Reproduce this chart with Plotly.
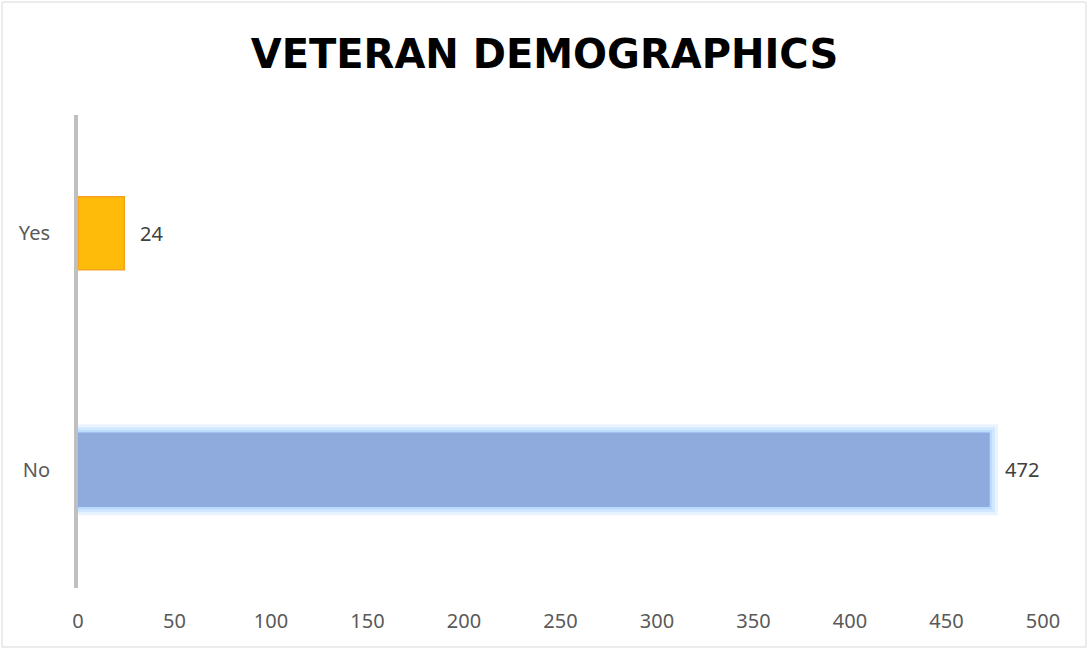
import plotly.graph_objects as go

categories = ["No", "Yes"]
values = [472, 24]
bar_colors = ["#8FAADC", "#FFBB0A"]
edge_colors = ["#8FAADC", "#F5A21E"]
x_ticks = [0, 50, 100, 150, 200, 250, 300, 350, 400, 450, 500]

W, H = 1089, 649
ml, mr, mt, mb = 78, 46, 115, 61
pw = W - ml - mr
ph = H - mt - mb
px_per_unit = pw / 500.0
cat_px = ph / len(categories)
bar_w = 73 / cat_px

fig = go.Figure()

# soft glow behind the "No" bar
glow_layers = [(9, 0.25), (6, 0.4), (3, 0.6)]
for g, op in glow_layers:
    fig.add_trace(go.Bar(
        y=[categories[0]], x=[values[0] + 2 * g / px_per_unit],
        base=[-g / px_per_unit],
        orientation="h", width=bar_w + 2 * g / cat_px,
        marker=dict(color=f"rgba(170,212,255,{op})", line=dict(width=0)),
        hoverinfo="skip", showlegend=False,
    ))

fig.add_trace(go.Bar(
    y=categories, x=values, orientation="h", width=bar_w,
    marker=dict(color=bar_colors, line=dict(color=edge_colors, width=1.5)),
    showlegend=False,
))

for c, v in zip(categories, values):
    fig.add_annotation(x=v, y=c, text=str(v), showarrow=False,
                       xanchor="left", xshift=14,
                       font=dict(family="Noto Sans", size=20, color="#404040"))

# outer chart border
fig.add_shape(type="rect", xref="paper", yref="paper",
              x0=(2 - ml) / pw, x1=(1086 - ml) / pw,
              y0=(mt + ph - 647) / ph, y1=(mt + ph - 2) / ph,
              line=dict(color="#D9D9D9", width=1), layer="below")

fig.update_layout(
    width=W, height=H,
    margin=dict(l=ml, r=mr, t=mt, b=mb),
    paper_bgcolor="white", plot_bgcolor="white",
    barmode="overlay",
    title=dict(text="<b>VETERAN DEMOGRAPHICS</b>", x=0.5, xanchor="center",
               y=1 - 54 / H, yanchor="middle",
               font=dict(family="DejaVu Sans", size=40, color="#000000")),
    xaxis=dict(range=[0, 500], tickvals=x_ticks, showgrid=False, zeroline=False,
               showline=False, ticks="", ticklabelstandoff=19,
               tickfont=dict(family="Noto Sans", size=20, color="#595959")),
    yaxis=dict(categoryorder="array", categoryarray=categories,
               range=[-0.5, 1.5],
               showgrid=False, zeroline=False, showline=True,
               linecolor="#BFBFBF", linewidth=4, ticks="",
               ticklabelstandoff=20,
               tickfont=dict(family="Noto Sans", size=20, color="#595959")),
)

fig.write_html("out.html")
